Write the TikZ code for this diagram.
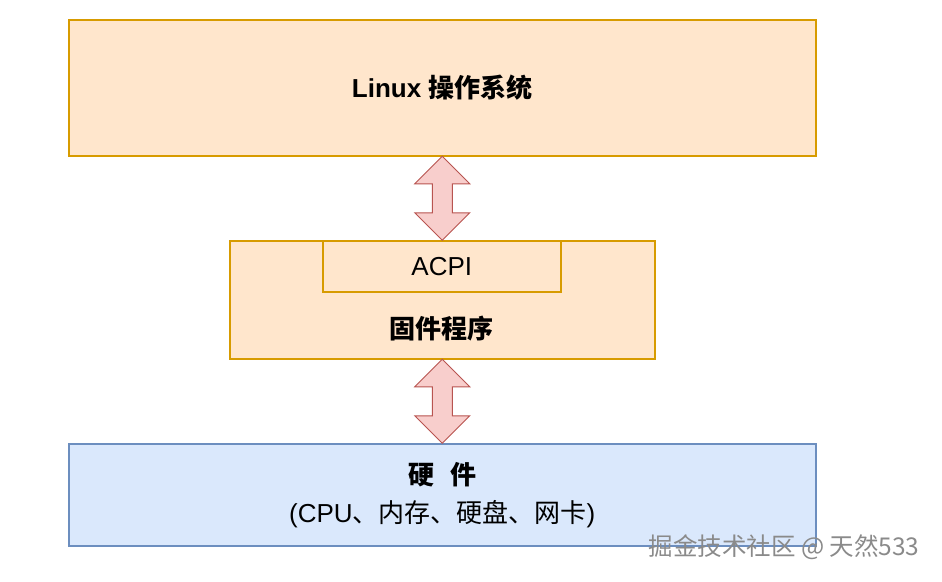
\documentclass[tikz,border=0pt]{standalone}
\usepackage{fontspec}
\setmainfont{Liberation Sans}
\newfontfamily\cjk{Noto Sans CJK SC}
\usetikzlibrary{positioning, shapes.arrows, calc}
\definecolor{cfill}{HTML}{FFE6CC}
\definecolor{cdraw}{HTML}{D79B00}
\definecolor{bfill}{HTML}{DAE8FC}
\definecolor{bdraw}{HTML}{6C8EBF}
\definecolor{afill}{HTML}{F8CECC}
\definecolor{adraw}{HTML}{B85450}
\definecolor{cgrey}{HTML}{8A8A8A}
\tikzset{
  every picture/.style={line width=1.5pt},
  layer/.style={draw=cdraw, fill=cfill, inner sep=0pt, anchor=north west, align=center},
  hwlayer/.style={layer, draw=bdraw, fill=bfill},
  dblarrow/.style={double arrow, draw=adraw, fill=afill, line width=1pt, rotate=90,
    inner xsep=0pt, inner ysep=9.5pt, minimum height=84pt, double arrow head extend=17.5pt},
  big/.style={font=\fontsize{26}{30}\selectfont},
}

\begin{document}
\begin{tikzpicture}[x=1pt, y=-1pt]
  \useasboundingbox (0,0) rectangle (942,581);
  \node[layer, big, minimum width=747pt, minimum height=136pt] (os) at (68,19)
    {\bfseries Linux {\cjk\bfseries 操作系统}};
  \node[layer, minimum width=425pt, minimum height=118pt] (fw) at (229,240) {};
  \node[layer, big, minimum width=238pt, minimum height=51pt] (acpi) at (322,240) {ACPI};
  \node[big, anchor=center] (fwtext) at (441.5,329) {\cjk\bfseries 固件程序};
  \node[hwlayer, big, minimum width=747pt, minimum height=102pt] (hw) at (68,443)
    {{\cjk\bfseries 硬\hspace{0.6em}件}\\[8pt](CPU{\cjk 、内存、硬盘、网卡})};
  % arrows between layers
  \node[dblarrow] (a1) at ($(os.south)!0.5!(fw.north)$) {};
  \node[dblarrow] (a2) at ($(fw.south)!0.5!(hw.north)$) {};
  % watermark
  \node[text=cgrey, font=\fontsize{24.5}{28}\selectfont\cjk, anchor=center] (wm) at (784,547)
    {掘金技术社区 @ 天然533};
\end{tikzpicture}
\end{document}
